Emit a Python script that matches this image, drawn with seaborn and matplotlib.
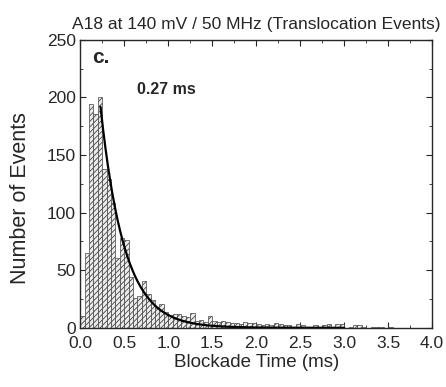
import numpy as np
import pandas as pd
import seaborn as sns
import matplotlib
matplotlib.use("Agg")
import matplotlib.pyplot as plt
from matplotlib.ticker import MultipleLocator

# histogram bin counts, bin width 0.05 ms starting at 0
bin_width = 0.05
counts = [10, 65, 194, 186, 200, 138, 129, 108, 61, 78,
          76, 44, 26, 28, 41, 29, 24, 17, 21, 14,
          11, 12, 12, 10, 9, 13, 6, 7, 5, 10,
          6, 5, 6, 5, 4, 4, 3, 5, 4, 4,
          3, 2, 3, 2, 4, 3, 2, 2, 1, 3,
          2, 1, 1, 2, 1, 2, 3, 1, 3, 3,
          0, 1, 2, 2, 1, 0, 1, 1, 1, 0,
          1, 0, 0, 0, 0, 0, 0, 0, 0, 0]

# exponential fit parameters
fit_amp = 450
fit_tau = 0.27
fit_start, fit_end = 0.23, 3.0

centers = (np.arange(len(counts)) + 0.5) * bin_width
df = pd.DataFrame({"t": centers, "n": counts})

fit_t = np.linspace(fit_start, fit_end, 300)
fit_y = fit_amp * np.exp(-fit_t / fit_tau)

sns.set_style("ticks")
plt.rcParams["font.family"] = ["Liberation Sans", "DejaVu Sans"]
plt.rcParams["hatch.linewidth"] = 0.6
plt.rcParams["hatch.color"] = "#333333"

fig = plt.figure(figsize=(4.46, 3.87), dpi=100)
ax = fig.add_axes([0.18, 0.153, 0.789, 0.744])

sns.histplot(data=df, x="t", weights="n", binwidth=bin_width,
             binrange=(0, len(counts) * bin_width), ax=ax,
             color="#ececec", alpha=1, edgecolor="#444444", linewidth=0.5,
             hatch="//////")
sns.lineplot(x=fit_t, y=fit_y, ax=ax, color="black", linewidth=1.6)

ax.set_xlim(0, 4.0)
ax.set_ylim(0, 250)
ax.xaxis.set_major_locator(MultipleLocator(0.5))
ax.xaxis.set_minor_locator(MultipleLocator(0.25))
ax.yaxis.set_major_locator(MultipleLocator(50))
ax.yaxis.set_minor_locator(MultipleLocator(25))
ax.tick_params(which="both", direction="in", top=True, right=True, labelsize=12.5)
ax.tick_params(which="major", length=4)
ax.tick_params(axis="x", which="major", pad=6)
ax.tick_params(axis="y", which="major", pad=3)
ax.tick_params(which="minor", length=2.5)
for s in ax.spines.values():
    s.set_linewidth(1.0)

ax.set_xlabel("Blockade Time (ms)", fontsize=13.5, labelpad=2)
ax.set_ylabel("Number of Events", fontsize=15.5)
ax.yaxis.set_label_coords(-0.14, 0.45)
ax.set_title("A18 at 140 mV / 50 MHz (Translocation Events)", fontsize=12.5, pad=8)

ax.text(0.034, 0.97, "c.", transform=ax.transAxes, fontsize=15, fontweight="bold", va="top")
ax.text(0.162, 0.855, "0.27 ms", transform=ax.transAxes, fontsize=11.5, fontweight="bold", va="top")

fig.savefig("out.png", dpi=100)
